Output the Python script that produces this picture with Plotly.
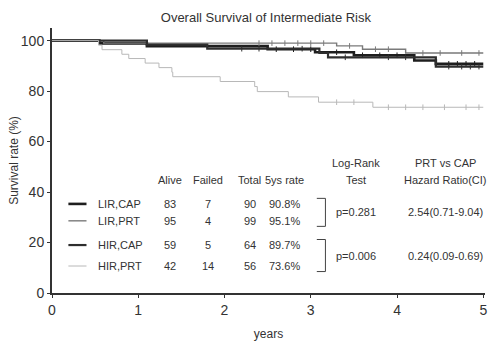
import plotly.graph_objects as go

# ---- data ----
groups = ["LIR,CAP", "LIR,PRT", "HIR,CAP", "HIR,PRT"]

lir_cap_t = [0.55, 1.10, 2.50, 3.05, 3.50, 4.20, 4.45]
lir_cap_s = [98.9, 97.8, 96.6, 95.4, 94.2, 92.1, 90.8]
lir_cap_cens = [2.6, 2.8, 3.0, 3.3, 3.6, 3.8, 4.0, 4.6, 4.7, 4.8, 4.9]

lir_prt_t = [0.60, 3.30, 3.60, 4.10]
lir_prt_s = [99.0, 97.9, 96.6, 95.1]
lir_prt_cens = [2.4, 2.55, 2.7, 2.85, 3.0, 3.15, 3.45, 3.75, 3.9, 4.3, 4.5, 4.75, 4.95]

hir_cap_t = [1.10, 1.80, 3.10, 3.20, 4.45]
hir_cap_s = [98.4, 96.8, 95.1, 93.4, 89.7]
hir_cap_cens = [2.2, 2.4, 2.9, 3.4, 3.9, 4.1, 4.6, 4.75, 4.85, 4.95]

hir_prt_t = [0.54, 0.58, 0.81, 0.89, 1.08, 1.24, 1.39, 1.40, 1.95, 2.35, 2.38, 2.74, 3.09, 3.72]
hir_prt_s = [98.2, 96.4, 94.6, 92.9, 91.1, 89.3, 87.5, 85.7, 83.8, 81.8, 79.8, 77.7, 75.6, 73.6]
hir_prt_cens = [3.3, 3.5, 3.9, 4.1, 4.3, 4.55, 4.8, 4.95]

alive = [83, 95, 59, 42]
failed = [7, 4, 5, 14]
total = [90, 99, 64, 56]
rate5 = ["90.8%", "95.1%", "89.7%", "73.6%"]
pvals = ["p=0.281", "p=0.006"]
hazard = ["2.54(0.71-9.04)", "0.24(0.09-0.69)"]

x_ticks = [0, 1, 2, 3, 4, 5]
y_ticks = [0, 20, 40, 60, 80, 100]

# ---- styles ----
colors = ["#1e1e1e", "#7a7a7a", "#2e2e2e", "#b8b8b8"]
widths = [2.6, 1.4, 2.2, 1.0]
FONT = "Liberation Sans, Arial, sans-serif"
TXT = "#333333"

curves = [
    (lir_cap_t, lir_cap_s, lir_cap_cens),
    (lir_prt_t, lir_prt_s, lir_prt_cens),
    (hir_cap_t, hir_cap_s, hir_cap_cens),
    (hir_prt_t, hir_prt_s, hir_prt_cens),
]


def surv_at(t, times, surv):
    s = 100.0
    for ti, si in zip(times, surv):
        if ti <= t:
            s = si
    return s


fig = go.Figure()
for i, (tt, ss, cc) in enumerate(curves):
    fig.add_trace(go.Scatter(
        x=[0] + tt + [5], y=[100] + ss + [ss[-1]],
        mode="lines", line=dict(shape="hv", color=colors[i], width=widths[i]),
        name=groups[i], showlegend=False, hoverinfo="skip", cliponaxis=False))
    fig.add_trace(go.Scatter(
        x=cc, y=[surv_at(c, tt, ss) for c in cc], mode="markers",
        marker=dict(symbol="line-ns", size=4, line=dict(color=colors[i], width=1)),
        showlegend=False, hoverinfo="skip"))

ann = []
shapes = []


def txt(x, y, s, anchor="center", size=11):
    ann.append(dict(x=x, y=y, xref="x", yref="y", text=s, showarrow=False,
                    xanchor=anchor, yanchor="middle",
                    font=dict(family=FONT, size=size, color=TXT)))


row_y = [35.3, 28.6, 19.0, 10.7]
hdr_y = 44.8
top_y = 51.6
col_x = {"alive": 1.37, "failed": 1.81, "total": 2.29, "rate": 2.70, "test": 3.52, "hr": 4.56}

txt(col_x["alive"], hdr_y, "Alive")
txt(col_x["failed"], hdr_y, "Failed")
txt(col_x["total"], hdr_y, "Total")
txt(col_x["rate"], hdr_y, "5ys rate")
txt(col_x["test"], top_y, "Log-Rank")
txt(col_x["test"], hdr_y, "Test")
txt(col_x["hr"], top_y, "PRT vs CAP")
txt(col_x["hr"], hdr_y, "Hazard Ratio(CI)")

for i, g in enumerate(groups):
    y = row_y[i]
    shapes.append(dict(type="line", xref="x", yref="y", x0=0.19, x1=0.40, y0=y, y1=y,
                       line=dict(color=colors[i], width=widths[i])))
    txt(0.51, y, g, anchor="left")
    txt(col_x["alive"], y, str(alive[i]))
    txt(col_x["failed"], y, str(failed[i]))
    txt(col_x["total"], y, str(total[i]))
    txt(col_x["rate"], y, rate5[i])

for k in range(2):
    y0 = row_y[2 * k] + 2.2
    y1 = row_y[2 * k + 1] - 2.2
    xb0, xb1 = 3.07, 3.17
    for (a, b, c, d) in [(xb0, y0, xb1, y0), (xb1, y0, xb1, y1), (xb0, y1, xb1, y1)]:
        shapes.append(dict(type="line", xref="x", yref="y", x0=a, y0=b, x1=c, y1=d,
                           line=dict(color="#444444", width=1)))
    ym = (row_y[2 * k] + row_y[2 * k + 1]) / 2
    txt(col_x["test"], ym, pvals[k])
    txt(col_x["hr"], ym, hazard[k])

fig.update_layout(
    width=497, height=341,
    margin=dict(l=52, r=12, t=28, b=48),
    paper_bgcolor="white", plot_bgcolor="white",
    title=dict(text="Overall Survival of Intermediate Risk", x=0.535, xanchor="center",
               y=0.95, yanchor="middle", font=dict(family=FONT, size=13, color=TXT)),
    annotations=ann, shapes=shapes,
    font=dict(family=FONT, color=TXT),
)
fig.update_xaxes(range=[0, 5.02], tickvals=x_ticks, ticktext=[str(v) for v in x_ticks],
                 automargin=False,
                 showgrid=False, zeroline=False, showline=True, linecolor="#333333",
                 linewidth=2, ticks="outside", ticklen=3, tickcolor="#333333",
                 tickfont=dict(family=FONT, size=14, color=TXT),
                 title=dict(text="years", font=dict(family=FONT, size=12, color=TXT), standoff=17))
fig.update_yaxes(range=[0, 105], tickvals=y_ticks, ticktext=[str(v) for v in y_ticks],
                 automargin=False,
                 showgrid=False, zeroline=False, showline=True, linecolor="#333333",
                 linewidth=2, ticks="outside", ticklen=3, tickcolor="#333333",
                 tickfont=dict(family=FONT, size=14, color=TXT),
                 title=dict(text="Survival rate (%)", font=dict(family=FONT, size=12, color=TXT), standoff=0))

fig.write_html("out.html", config={"displayModeBar": False},
               post_script="document.body.style.margin='0';document.body.style.padding='0';")
